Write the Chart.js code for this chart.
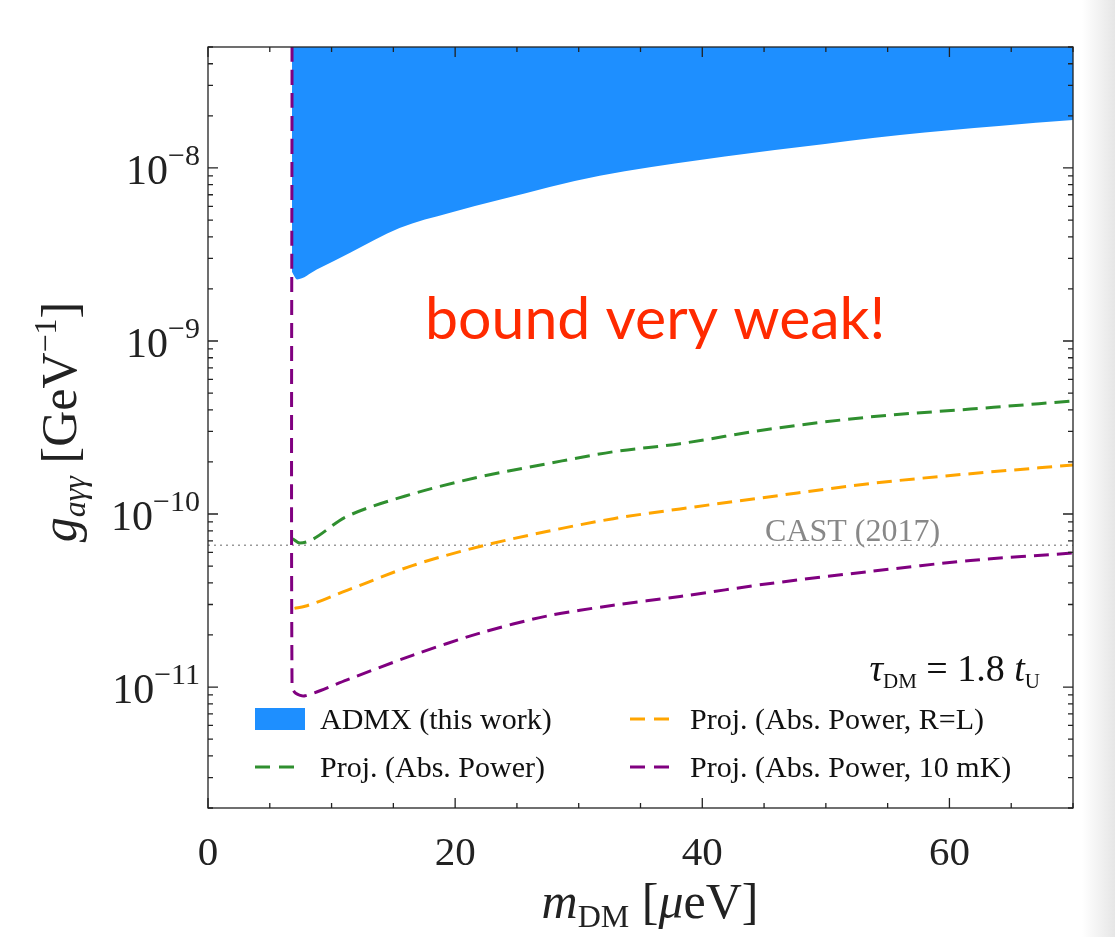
<!DOCTYPE html>
<html>
<head>
<style>
  body { margin: 0; background: linear-gradient(to right, #fff 0, #fff 1082px, #e6e6e6 1115px); }
  #chart { display: block; }
</style>
</head>
<body>
<canvas id="chart" width="1115" height="937"></canvas>
<script src="https://cdn.jsdelivr.net/npm/chart.js@4/dist/chart.umd.min.js"></script>
<script>
// values (mass in micro-eV, coupling in GeV^-1)
const admxMass  = [6.8, 7.2, 8.8, 11.5, 15.5, 19.6, 23.6, 31.7, 39.8, 47.9, 56, 64, 70];
const admxLimit = [2.5e-9, 2.27e-9, 2.59e-9, 3.24e-9, 4.5e-9, 5.51e-9, 6.54e-9, 9.0e-9, 1.11e-8, 1.32e-8, 1.55e-8, 1.75e-8, 1.89e-8];

const absMass  = [6.85, 7.44, 11.25, 16.6, 22, 27.4, 32.8, 38.2, 45.5, 53.6, 61.7, 70];
const absPower = [7.2e-11, 6.8e-11, 9.7e-11, 1.31e-10, 1.64e-10, 1.95e-10, 2.29e-10, 2.55e-10, 3.1e-10, 3.64e-10, 4.04e-10, 4.5e-10];

const rlMass  = [7.0, 7.85, 11.25, 16.6, 22, 27.4, 32.8, 38.2, 45.5, 53.6, 61.7, 70];
const rlPower = [2.85e-11, 2.93e-11, 3.62e-11, 5.05e-11, 6.49e-11, 7.92e-11, 9.4e-11, 1.07e-10, 1.26e-10, 1.5e-10, 1.71e-10, 1.92e-10];

const mkMass  = [6.8, 6.8, 7.1, 7.85, 11.25, 16.6, 22, 27.4, 32.8, 38.2, 45.5, 53.6, 61.7, 70];
const mkPower = [5e-8, 1.01e-11, 9.2e-12, 8.9e-12, 1.10e-11, 1.53e-11, 2.05e-11, 2.57e-11, 2.97e-11, 3.34e-11, 3.97e-11, 4.66e-11, 5.39e-11, 5.95e-11];

const castMass  = [0, 70];
const castLimit = [6.6e-11, 6.6e-11];

const xTickLabels = [0, 20, 40, 60];
const yDecades = [-12, -11, -10, -9, -8];

const labels = ['ADMX (this work)', 'Proj. (Abs. Power)', 'Proj. (Abs. Power, R=L)', 'Proj. (Abs. Power, 10 mK)'];

function pts(xs, ys) { return xs.map((x, i) => ({x: x, y: ys[i]})); }

const serif = 'Liberation Serif';

// draws a list of [text, size, italic, dy] pieces one after another
function rich(ctx, parts, x, y, align, family) {
  let w = 0;
  parts.forEach(p => {
    ctx.font = (p[2] ? 'italic ' : '') + p[1] + 'px "' + (family || serif) + '"';
    p.w = ctx.measureText(p[0]).width;
    w += p.w;
  });
  let cx = align === 'center' ? x - w / 2 : (align === 'right' ? x - w : x);
  ctx.textAlign = 'left';
  parts.forEach(p => {
    ctx.font = (p[2] ? 'italic ' : '') + p[1] + 'px "' + (family || serif) + '"';
    ctx.fillText(p[0], cx, y + (p[3] || 0));
    cx += p.w;
  });
}

const frame = {
  id: 'frame',
  afterDraw(chart) {
    const ctx = chart.ctx, a = chart.chartArea;
    const xs = chart.scales.x, ys = chart.scales.y;
    ctx.save();
    ctx.strokeStyle = '#222';
    ctx.lineWidth = 1.3;
    ctx.strokeRect(a.left, a.top, a.right - a.left, a.bottom - a.top);
    ctx.beginPath();
    xs.ticks.forEach(t => {
      const px = xs.getPixelForValue(t.value);
      const len = t.value % 20 === 0 ? 10 : 5;
      ctx.moveTo(px, a.bottom); ctx.lineTo(px, a.bottom - len);
      ctx.moveTo(px, a.top); ctx.lineTo(px, a.top + len);
    });
    ys.ticks.forEach(t => {
      const py = ys.getPixelForValue(t.value);
      const lg = Math.log10(t.value);
      const len = Math.abs(lg - Math.round(lg)) < 1e-6 ? 10 : 5;
      ctx.moveTo(a.left, py); ctx.lineTo(a.left + len, py);
      ctx.moveTo(a.right, py); ctx.lineTo(a.right - len, py);
    });
    ctx.stroke();

    // y tick labels 10^n
    ctx.fillStyle = '#222';
    ctx.textBaseline = 'alphabetic';
    yDecades.forEach(e => {
      const v = Math.pow(10, e);
      if (v < ys.min || v > ys.max) return;
      const py = ys.getPixelForValue(v);
      rich(ctx, [['10', 42, false, 0], ['\u2212' + Math.abs(e), 30, false, -19]], a.left - 8, py + 16, 'right');
    });

    // axis titles
    rich(ctx, [['m', 50, true, 0], ['DM', 32, false, 9], [' [', 50, false, 0], ['\u03bc', 50, true, 0], ['eV]', 50, false, 0]], 650, 918, 'center');
    ctx.save();
    ctx.translate(76, 422);
    ctx.rotate(-Math.PI / 2);
    rich(ctx, [['g', 50, true, 0], ['a\u03b3\u03b3', 32, true, 9], [' [GeV', 50, false, 0], ['\u22121', 32, false, -20], [']', 50, false, 0]], 0, 0, 'center');
    ctx.restore();

    // in-plot notes
    ctx.fillStyle = '#888';
    rich(ctx, [['CAST (2017)', 32, false, 0]], 765, 541, 'left');
    ctx.fillStyle = '#111';
    rich(ctx, [['\u03c4', 38, true, 0], ['DM', 21, false, 7], [' = 1.8 ', 38, false, 0], ['t', 38, true, 0], ['U', 21, false, 7]], 1040, 681, 'right');
    ctx.fillStyle = '#ff2a00';
    rich(ctx, [['bound very weak!', 59, false, 0]], 425, 339, 'left', 'Lato');

    // legend, two columns
    const ds = chart.data.datasets;
    const rows = [[0, 255, 719], [1, 255, 767], [2, 630, 719], [3, 630, 767]];
    rows.forEach(r => {
      const d = ds[r[0]];
      if (r[0] === 0) {
        ctx.fillStyle = d.backgroundColor;
        ctx.fillRect(r[1], r[2] - 11, 50, 22);
      } else {
        ctx.strokeStyle = d.borderColor;
        ctx.lineWidth = 3;
        ctx.setLineDash([15, 9]);
        ctx.beginPath();
        ctx.moveTo(r[1], r[2]); ctx.lineTo(r[1] + 42, r[2]);
        ctx.stroke();
        ctx.setLineDash([]);
      }
      ctx.fillStyle = '#111';
      rich(ctx, [[d.label, 30, false, 0]], r[1] + (r[0] < 2 ? 65 : 60), r[2] + 10, 'left');
    });
    ctx.restore();
  }
};

new Chart(document.getElementById('chart'), {
  type: 'line',
  data: {
    datasets: [
      { label: labels[0], data: pts(admxMass, admxLimit), fill: 'end', backgroundColor: '#1e8fff',
        borderWidth: 0, pointRadius: 0, cubicInterpolationMode: 'monotone', order: 5 },
      { label: labels[1], data: pts(absMass, absPower), borderColor: '#2f8f2f', borderWidth: 3,
        borderDash: [15, 8], pointRadius: 0, cubicInterpolationMode: 'monotone', fill: false, order: 3 },
      { label: labels[2], data: pts(rlMass, rlPower), borderColor: '#ffa500', borderWidth: 3,
        borderDash: [15, 8], pointRadius: 0, cubicInterpolationMode: 'monotone', fill: false, order: 2 },
      { label: labels[3], data: pts(mkMass, mkPower), borderColor: '#800080', borderWidth: 3,
        borderDash: [15, 8], pointRadius: 0, tension: 0.3, fill: false, order: 1 },
      { label: 'CAST (2017)', data: pts(castMass, castLimit), borderColor: '#999', borderWidth: 1.5,
        borderDash: [2, 4], pointRadius: 0, fill: false, order: 4 }
    ]
  },
  options: {
    responsive: false,
    animation: false,
    layout: { padding: { left: 0, top: 47, right: 42, bottom: 0 } },
    plugins: { legend: { display: false }, tooltip: { enabled: false } },
    scales: {
      x: {
        type: 'linear', min: 0, max: 70,
        grid: { display: false, drawTicks: false },
        border: { display: false },
        ticks: {
          stepSize: 5, autoSkip: false, maxRotation: 0, padding: 22, color: '#222',
          font: { family: serif, size: 41 },
          callback: v => xTickLabels.includes(v) ? String(v) : ''
        },
        afterFit: s => { s.height = 937 - 808; }
      },
      y: {
        type: 'logarithmic', min: 2e-12, max: 5e-8,
        grid: { display: false, drawTicks: false },
        border: { display: false },
        ticks: { display: false },
        afterBuildTicks: s => {
          const t = [];
          yDecades.forEach(e => {
            for (let k = 1; k <= 9; k++) {
              const v = k * Math.pow(10, e);
              if (v >= s.min && v <= s.max) t.push({ value: v });
            }
          });
          s.ticks = t;
        },
        afterFit: s => { s.width = 208; }
      }
    }
  },
  plugins: [frame]
});
</script>
</body>
</html>
